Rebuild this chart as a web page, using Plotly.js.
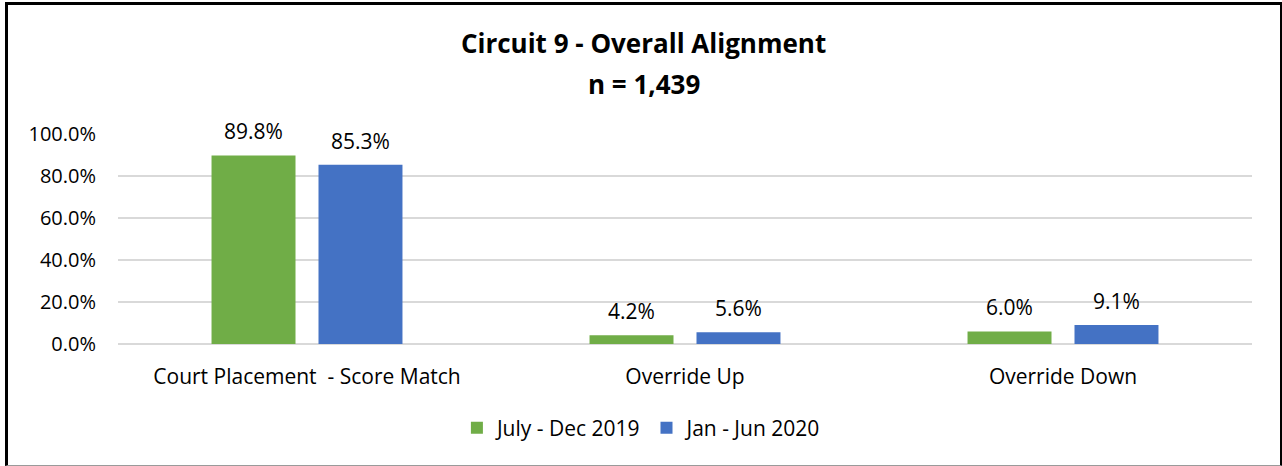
<!DOCTYPE html>
<html>
<head>
<meta charset="utf-8">
<script src="https://cdn.plot.ly/plotly-3.0.1.min.js"></script>
<style>
html,body{margin:0;padding:0;background:#fff;}
#wrap{position:relative;width:1282px;height:466px;overflow:hidden;}
#chart{position:absolute;left:0;top:0;width:1282px;height:466px;}
#frame{position:absolute;left:5px;top:2px;width:1272px;height:460px;border-top:3px solid #000;border-left:3px solid #000;border-right:3px solid #000;border-bottom:1px solid #9a9a9a;pointer-events:none;}
</style>
</head>
<body>
<div id="wrap">
<div id="chart"></div>
<div id="frame"></div>
</div>
<script>
var categories = ["Court Placement  - Score Match", "Override Up", "Override Down"];
var seriesNames = ["July - Dec 2019", "Jan - Jun 2020"];
var julyDec2019 = [0.898, 0.042, 0.060];
var janJun2020 = [0.853, 0.056, 0.091];
var yTickVals = [0, 0.2, 0.4, 0.6, 0.8, 1.0];
var titleLine1 = "Circuit 9 - Overall Alignment";
var titleLine2 = "n = 1,439";

var FONT = "'Open Sans', sans-serif";
var seriesColors = ["#70ad47", "#4472c4"];
var seriesValues = [julyDec2019, janJun2020];
var traces = seriesValues.map(function(vals, i){
  return {type:"bar", name:seriesNames[i], x:categories, y:vals,
   marker:{color:seriesColors[i]}, hoverinfo:"none", offsetgroup:String(i)};
});

var bargap = 0.434, bargroupgap = 0.215;
var annotations = [{text:"<b>"+titleLine2+"</b>", xref:"paper", yref:"paper", x:0.464, y:(344-84)/210,
                xanchor:"center", yanchor:"middle", showarrow:false,
                font:{family:FONT,size:26,color:"#000"}}];
// data labels, placed at each bar through the axis scales
var slot = (1-bargap)/2;
seriesValues.forEach(function(vals, i){
  var off = (i - 0.5) * slot;
  vals.forEach(function(v, j){
    annotations.push({x:j + off, y:v, xref:"x", yref:"y", text:(v*100).toFixed(1)+"%",
      showarrow:false, xanchor:"center", yanchor:"bottom", yshift:8,
      font:{family:FONT,size:21,color:"#000"}});
  });
});

var layout = {
  width:1282, height:466,
  margin:{l:118, r:30, t:134, b:122},
  paper_bgcolor:"#fff", plot_bgcolor:"#fff",
  font:{family:FONT, size:21, color:"#000"},
  title:{text:"<b>"+titleLine1+"</b>", font:{family:FONT,size:26,color:"#000"},
         x:0.502, xanchor:"center", y:1-44/466, yanchor:"middle", yref:"container"},
  annotations:annotations,
  barmode:"group", bargap:bargap, bargroupgap:bargroupgap,
  showlegend:true,
  legend:{orientation:"h", x:0.462, xanchor:"center", y:-(428-344)/210, yanchor:"middle",
          font:{family:FONT,size:21,color:"#000"}, itemwidth:30, tracegroupgap:0},
  xaxis:{type:"category", range:[-0.5,2.5], showgrid:false, showline:false, zeroline:false,
         ticks:"", ticklabelstandoff:18, tickfont:{family:FONT,size:21,color:"#000"}, fixedrange:true},
  yaxis:{range:[0,1], tickvals:yTickVals, tickformat:".1%", showgrid:true, gridcolor:"#d9d9d9", gridwidth:1.5,
         zeroline:true, zerolinecolor:"#d9d9d9", zerolinewidth:1.5, showline:false, ticks:"",
         ticklabelstandoff:21, tickfont:{family:FONT,size:20,color:"#000"}, fixedrange:true}
};
Plotly.newPlot("chart", traces, layout, {displayModeBar:false, staticPlot:true});
</script>
</body>
</html>
